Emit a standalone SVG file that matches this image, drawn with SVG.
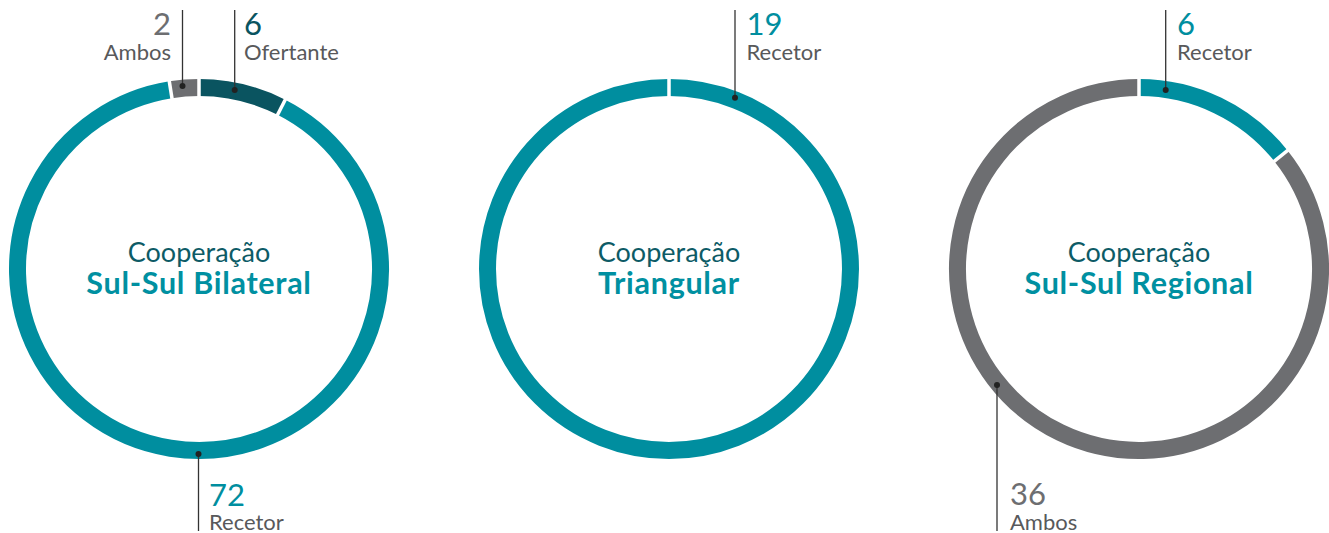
<svg xmlns="http://www.w3.org/2000/svg" width="1329" height="533" viewBox="0 0 1329 533">
<style>
.seg{fill:none;stroke-width:17}
.teal{stroke:#008E9F}
.dark{stroke:#0A5460}
.gray{stroke:#6D6E71}
.sep{stroke:#FFFFFF;stroke-width:3.5}
.lead{stroke:#333333;stroke-width:1.3}
.dot{fill:#222222}
text{font-family:Lato,"Liberation Sans",sans-serif}
.num{font-size:31px}
.lab{font-size:22px;fill:#58595B}
.t1{font-size:27px;fill:#0D5B66;text-anchor:middle}
.t2{font-size:30.5px;font-weight:bold;fill:#0090A1;text-anchor:middle;letter-spacing:0.7px}
</style>
<rect width="1329" height="533" fill="#FFFFFF"/>
<g id="chart-bilateral">
<path class="seg dark" d="M199,87.5 A181.5,181.5 0 0 1 281.40,107.28"/>
<path class="seg teal" d="M281.40,107.28 A181.5,181.5 0 1 1 170.61,89.73"/>
<path class="seg gray" d="M170.61,89.73 A181.5,181.5 0 0 1 199,87.5"/>
<line class="sep" x1="199" y1="100" x2="199" y2="76"/>
<line class="sep" x1="276.18" y1="117.53" x2="286.62" y2="97.04"/>
<line class="sep" x1="172.41" y1="101.09" x2="168.81" y2="78.38"/>
<text class="t1" x="199" y="262">Cooperação</text>
<text class="t2" x="199" y="294">Sul-Sul Bilateral</text>
</g>
<g id="chart-triangular">
<circle class="seg teal" cx="669" cy="269" r="181.5"/>
<line class="sep" x1="669" y1="100" x2="669" y2="76"/>
<text class="t1" x="669" y="262">Cooperação</text>
<text class="t2" x="669" y="294">Triangular</text>
</g>
<g id="chart-regional">
<path class="seg teal" d="M1139,87.5 A181.5,181.5 0 0 1 1280.90,155.84"/>
<path class="seg gray" d="M1280.90,155.84 A181.5,181.5 0 1 1 1139,87.5"/>
<line class="sep" x1="1139" y1="100" x2="1139" y2="76"/>
<line class="sep" x1="1271.91" y1="163.01" x2="1289.89" y2="148.67"/>
<text class="t1" x="1139" y="262">Cooperação</text>
<text class="t2" x="1139" y="294">Sul-Sul Regional</text>
</g>
<g id="connectors">
<line class="lead" x1="182.5" y1="10" x2="182.5" y2="86"/>
<circle class="dot" cx="182.5" cy="86" r="3"/>
<line class="lead" x1="234.7" y1="10" x2="234.7" y2="90"/>
<circle class="dot" cx="234.7" cy="90" r="3"/>
<line class="lead" x1="198.5" y1="454" x2="198.5" y2="531"/>
<circle class="dot" cx="198.5" cy="454" r="3"/>
<line class="lead" x1="735" y1="10" x2="735" y2="97.7"/>
<circle class="dot" cx="735" cy="97.7" r="3"/>
<line class="lead" x1="1165.7" y1="10" x2="1165.7" y2="90"/>
<circle class="dot" cx="1165.7" cy="90" r="3"/>
<line class="lead" x1="997" y1="385" x2="997" y2="531"/>
<circle class="dot" cx="997" cy="385" r="3"/>
</g>
<g id="label-ambos-1">
<text class="num" x="171" y="35" text-anchor="end" fill="#6D6E71">2</text>
<text class="lab" x="171" y="60" text-anchor="end">Ambos</text>
</g>
<g id="label-ofertante-1">
<text class="num" x="244" y="35" fill="#0A5460">6</text>
<text class="lab" x="244" y="60">Ofertante</text>
</g>
<g id="label-recetor-1">
<text class="num" x="209" y="506" fill="#008E9F">72</text>
<text class="lab" x="209" y="530">Recetor</text>
</g>
<g id="label-recetor-2">
<text class="num" x="746.5" y="35" fill="#008E9F">19</text>
<text class="lab" x="746.5" y="60">Recetor</text>
</g>
<g id="label-recetor-3">
<text class="num" x="1177" y="35" fill="#008E9F">6</text>
<text class="lab" x="1177" y="60">Recetor</text>
</g>
<g id="label-ambos-3">
<text class="num" x="1010" y="505" fill="#6D6E71">36</text>
<text class="lab" x="1010" y="530">Ambos</text>
</g>
</svg>
